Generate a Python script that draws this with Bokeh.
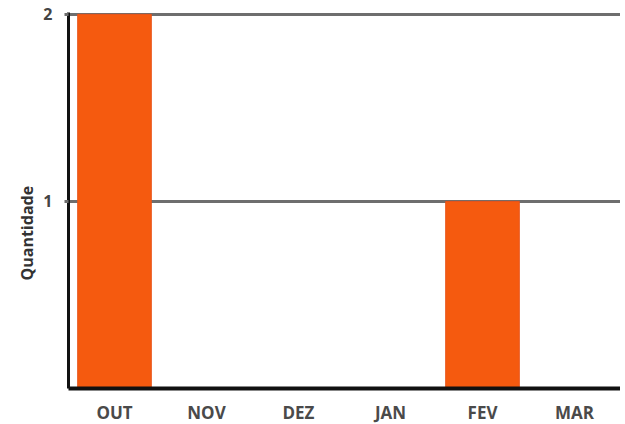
from bokeh.plotting import figure
from bokeh.models import FixedTicker, Title, ColumnDataSource
from bokeh.embed import file_html
from bokeh.resources import INLINE

months = ["OUT", "NOV", "DEZ", "JAN", "FEV", "MAR"]
quantities = [2, 0, 0, 0, 1, 0]
y_ticks = [1, 2]

src = ColumnDataSource(dict(month=months, qty=quantities))

p = figure(x_range=months, y_range=(0, 2.01), frame_width=552, frame_height=376,
           output_backend="svg", toolbar_location=None,
           min_border_left=68, min_border_right=0, min_border_top=12, min_border_bottom=32)
p.outline_line_color = None
p.background_fill_color = "white"
p.border_fill_color = "white"

p.vbar(x="month", top="qty", width=0.8, source=src,
       fill_color="#f55a0f", line_color="#e8541a", line_width=1)

p.xgrid.grid_line_color = None
p.ygrid.ticker = FixedTicker(ticks=y_ticks)
p.ygrid.grid_line_color = "#6e6e6e"
p.ygrid.grid_line_width = 3

p.yaxis.ticker = FixedTicker(ticks=y_ticks)
p.yaxis.axis_line_color = "#111111"
p.yaxis.axis_line_width = 3
p.yaxis.major_tick_line_color = "#6e6e6e"
p.yaxis.major_tick_line_width = 3
p.yaxis.major_tick_out = 4
p.yaxis.major_tick_in = 0
p.yaxis.minor_tick_line_color = None
p.yaxis.major_label_text_font = "Open Sans"
p.yaxis.major_label_text_font_style = "bold"
p.yaxis.major_label_text_font_size = "16px"
p.yaxis.major_label_text_color = "#444444"
p.yaxis.major_label_standoff = 12

p.xaxis.axis_line_color = "#111111"
p.xaxis.axis_line_width = 4
p.xaxis.major_tick_line_color = None
p.xaxis.minor_tick_line_color = None
p.xaxis.major_label_text_font = "Open Sans"
p.xaxis.major_label_text_font_style = "bold"
p.xaxis.major_label_text_font_size = "17px"
p.xaxis.major_label_text_color = "#4a4a4a"
p.xaxis.major_label_standoff = 6

p.add_layout(Title(text="Quantidade", align="left", offset=108, standoff=6,
                   text_font="Open Sans", text_font_style="bold", text_font_size="16px",
                   text_color="#333333"), "left")

open("out.html", "w").write(file_html(p, INLINE))
